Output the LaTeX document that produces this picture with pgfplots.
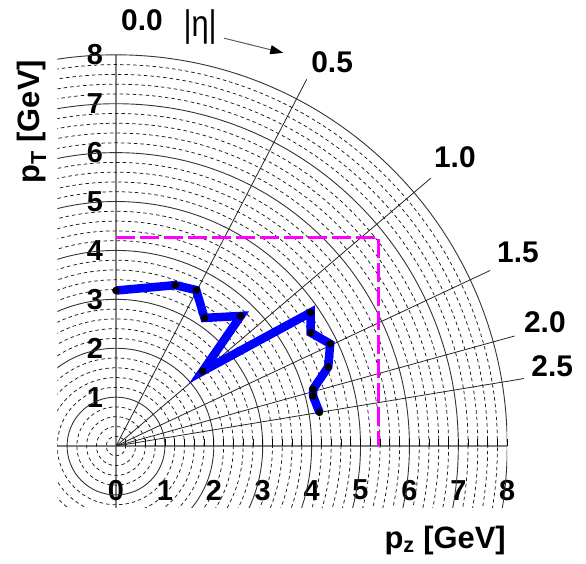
\documentclass[border=0pt]{standalone}
\usepackage{pgfplots}
\pgfplotsset{compat=1.18}
\usepackage{fontspec}
\setmainfont{Liberation Sans}
\usetikzlibrary{arrows.meta}
\definecolor{mag}{RGB}{255,0,255}
\definecolor{trk}{RGB}{0,0,255}

\begin{document}
\begin{tikzpicture}
\begin{axis}[
  x=48.9bp, y=48.9bp,
  xmin=-1.2, xmax=8, ymin=-1.26, ymax=8,
  enlargelimits=false,
  axis lines=middle,
  axis line style={-, draw=gray, line width=1.1bp},
  clip=false,
  /pgf/number format/assume math mode=true,
  xtick={0,...,8}, ytick={1,...,8},
  hide obscured x ticks=false,
  hide obscured y ticks=false,
  xtick style={draw=none},
  ytick style={draw=none},
  xticklabel style={anchor=center, yshift=-42bp, inner sep=0pt, font=\fontsize{29}{29}\selectfont\bfseries},
  yticklabel style={anchor=center, xshift=-19bp, inner sep=0pt, font=\fontsize{29}{29}\selectfont\bfseries},
]
% polar grid
\begin{scope}
\clip (axis cs:-1.2,-1.26) rectangle (axis cs:8,8);
\pgfplotsinvokeforeach{0.2,0.4,0.6,0.8,1.2,1.4,1.6,1.8,2.2,2.4,2.6,2.8,3.2,3.4,3.6,3.8,4.2,4.4,4.6,4.8,5.2,5.4,5.6,5.8,6.2,6.4,6.6,6.8,7.2,7.4,7.6,7.8}{
  \draw[black!90, line width=0.75bp, dash pattern=on 3.5bp off 3bp] (axis cs:0,0) circle[radius=#1];
}
\pgfplotsinvokeforeach{1,2,3,4,5,6,7,8}{
  \draw[black!80, line width=0.9bp] (axis cs:0,0) circle[radius=#1];
}
\end{scope}
% small ticks on the p_z axis
\pgfplotsinvokeforeach{0.2,0.4,0.6,0.8,1,1.2,1.4,1.6,1.8,2,2.2,2.4,2.6,2.8,3,3.2,3.4,3.6,3.8,4,4.2,4.4,4.6,4.8,5,5.2,5.4,5.6,5.8,6,6.2,6.4,6.6,6.8,7,7.2,7.4,7.6,7.8,8}{
  \draw[black, line width=0.8bp] (axis cs:#1,0) -- (axis cs:#1,0.145);
}
% eta lines
\addplot[black!85, line width=0.8bp] coordinates {(0,0) (3.90,7.50)};
\addplot[black!85, line width=0.8bp] coordinates {(0,0) (6.44,5.48)};
\addplot[black!85, line width=0.8bp] coordinates {(0,0) (7.65,3.59)};
\addplot[black!85, line width=0.8bp] coordinates {(0,0) (8.15,2.25)};
\addplot[black!85, line width=0.8bp] coordinates {(0,0) (8.34,1.38)};
% magenta box
\addplot[mag, line width=3bp, dash pattern=on 19bp off 5bp] coordinates {(0,4.26) (5.37,4.26) (5.37,0)};
% blue track
\addplot[trk, line width=8.5bp, line join=miter, line cap=butt, mark=*, mark size=3.6bp,
  mark options={draw=black, fill=black, line width=0.3bp}] coordinates {
  (0.00,3.18) (1.21,3.29) (1.64,3.19) (1.81,2.62) (2.55,2.66) (1.77,1.53)
  (3.98,2.73) (3.98,2.32) (4.38,2.09) (4.34,1.62) (4.03,1.16) (4.03,1.02) (4.16,0.69)
};
% labels
\tikzset{lab/.style={font=\fontsize{30}{30}\selectfont\bfseries, inner sep=0pt, anchor=center}}
\tikzset{albl/.style={font=\fontsize{31}{31}\selectfont\bfseries, inner sep=0pt, anchor=center}}
\node[lab] at (axis cs:0.53,8.71) {0.0};
\node[lab] at (axis cs:4.42,7.85) {0.5};
\node[lab] at (axis cs:6.93,5.91) {1.0};
\node[lab] at (axis cs:8.22,3.97) {1.5};
\node[lab] at (axis cs:8.77,2.54) {2.0};
\node[lab] at (axis cs:8.92,1.64) {2.5};
\node[font=\fontsize{31}{31}\selectfont, inner sep=0pt, anchor=center, yscale=1.2] at (axis cs:1.72,8.57) {|η|};
\draw[black!65, line width=1bp, -{Triangle[black, length=13bp, width=9bp]}] (axis cs:2.21,8.34) -- (axis cs:3.42,8.04);
\node[albl, rotate=90] at (axis cs:-1.72,6.63) {p\textsubscript{T} [GeV]};
\node[albl] at (axis cs:6.73,-1.94) {p\textsubscript{z} [GeV]};
\coordinate (BL) at (axis cs:-2.372,-2.393);
\coordinate (TR) at (axis cs:9.611,9.121);
\end{axis}
\pgfresetboundingbox
\useasboundingbox (BL) rectangle (TR);
\end{tikzpicture}
\end{document}
